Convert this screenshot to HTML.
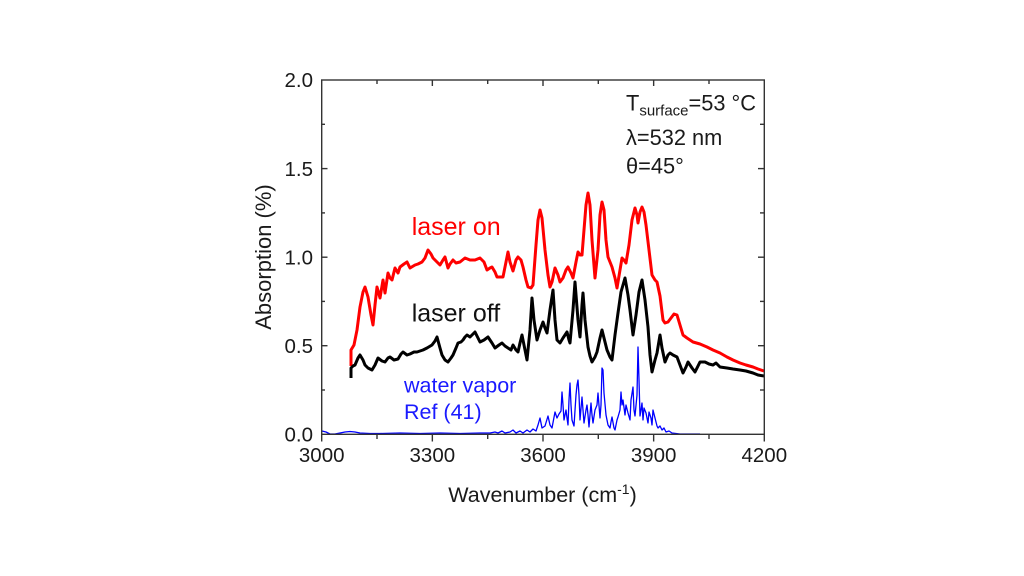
<!DOCTYPE html>
<html>
<head>
<meta charset="utf-8">
<style>
html,body{margin:0;padding:0;background:#fff;}
svg{display:block;}
text{font-family:"Liberation Sans",Arial,sans-serif;}
</style>
</head>
<body>
<svg width="1024" height="576" viewBox="0 0 1024 576" xmlns="http://www.w3.org/2000/svg">
<rect width="1024" height="576" fill="#fff"/>

<!-- blue water vapor -->
<polyline fill="none" stroke="#0000ff" stroke-width="1.3" stroke-linejoin="round" points="322,431 326,432 330,434 335,434 340,433 345,432 350,431.5 355,432 360,433 370,433.5 380,433.5 400,433 420,433.5 440,433 460,433.5 480,433 490,433 495,432 498,433 502,431 505,433 510,432 513,430 516,433 520,431 523,433 527,430 530,432 533,429 536,431 538,425 540,418 542,428 545,426 548,416 550,425 552,428 555,412 557,418 559,414 561,411 562,392 563,405 564,420 566,410 567,418 568,425 569,400 570,383 571,405 572,420 574,426 576,395 577,385 578,380 579,395 580,420 582,397 583,410 584,423 586,410 587,405 588,415 589,427 591,403 592,415 593,423 595,410 597,405 598,393 600,418 601,405 602,368 603,370 604,393 606,415 608,425 610,428 611,422 612,417 614,428 615,430 617,420 618,417 620,410 621,392 622,405 623,400 625,415 626,405 628,413 630,420 631,400 633,387 634,410 635,416 637,395 638,347 639,380 640,416 641,410 642,403 643,420 644,408 646,413 648,423 649,412 651,418 652,425 653,410 655,418 657,426 658,428 660,426 662,430 664,428 666,432 669,431 672,433 680,434 700,434"/>

<!-- red laser on -->
<polyline fill="none" stroke="#ff0000" stroke-width="3" stroke-linejoin="round" points="351,366 351,350 354,345 357,330 360,307 363,292 365,287 368,297 371,315 373,325 375,305 377,287 380,298 383,280 385,293 388,273 390,278 392,280 395,268 398,273 400,267 404,264 407,262 410,268 415,265 418,264 422,262 425,258 428,250 431,254 433,258 437,262 440,265 443,260 445,257 448,268 450,264 453,260 456,263 460,262 465,258 470,260 475,260 480,258 484,262 487,270 490,268 492,267 495,272 497,277 500,277 503,277 506,262 508,252 510,262 513,271 516,260 518,257 521,260 523,267 526,280 528,287 531,288 533,285 536,245 538,220 540,210 542,218 545,250 548,275 550,287 552,282 555,268 558,275 560,282 563,278 566,270 568,267 571,273 573,278 576,262 578,252 580,255 582,255 584,230 586,205 588,193 590,205 592,240 595,278 598,250 600,215 602,202 604,210 606,240 608,257 610,262 612,267 615,278 617,288 620,270 622,258 624,260 626,263 629,245 632,220 635,208 637,215 638,223 640,212 642,207 644,212 646,225 649,250 652,275 655,280 657,282 660,296 663,320 665,323 668,322 671,318 674,314 677,315 680,325 683,335 687,338 693,342 700,344 707,347 713,350 720,353 727,357 733,360 740,363 746,365 753,367 758,369 764,371"/>

<!-- black laser off -->
<polyline fill="none" stroke="#000" stroke-width="3" stroke-linejoin="round" points="351,378 351,368 353,366 355,365 358,358 360,355 363,360 365,365 368,368 372,370 375,365 378,358 382,361 385,362 388,358 390,357 394,360 398,359 401,354 403,352 407,355 410,354 414,352 417,352 420,351 423,350 427,348 432,345 435,341 437,337 440,348 442,355 445,360 448,362 451,358 453,355 456,348 458,343 461,342 463,340 465,337 467,335 470,337 472,335 474,333 475,332 478,338 480,342 484,340 488,337 492,343 495,348 499,345 502,343 505,346 508,348 511,350 513,345 516,350 518,352 520,343 522,335 525,350 527,360 530,330 532,298 534,320 537,340 540,330 543,322 545,328 547,333 550,310 553,290 555,320 557,340 560,343 563,338 567,332 569,340 570,343 573,310 575,282 578,320 580,337 582,305 583,293 585,320 588,347 590,356 592,362 595,357 597,352 600,338 602,330 605,342 607,350 610,357 612,360 615,335 618,313 621,292 625,278 628,295 630,310 633,335 636,315 639,292 642,280 645,300 648,327 650,355 652,372 655,360 657,353 660,335 662,348 665,362 668,355 670,353 673,355 677,357 680,365 683,373 686,367 688,362 692,368 695,372 698,366 700,362 705,362 709,364 713,365 716,363 720,367 727,368 733,369 740,370 746,371 753,373 758,375 764,376"/>

<!-- frame -->
<rect x="321.7" y="80" width="442.6" height="354.3" fill="none" stroke="#333" stroke-width="1.4"/>

<!-- ticks -->
<g stroke="#333" stroke-width="1.4">
  <line x1="321.7" y1="434.3" x2="321.7" y2="441.5"/>
  <line x1="377" y1="434.3" x2="377" y2="439"/>
  <line x1="432.35" y1="434.3" x2="432.35" y2="441.5"/>
  <line x1="487.7" y1="434.3" x2="487.7" y2="439"/>
  <line x1="543" y1="434.3" x2="543" y2="441.5"/>
  <line x1="598.3" y1="434.3" x2="598.3" y2="439"/>
  <line x1="653.65" y1="434.3" x2="653.65" y2="441.5"/>
  <line x1="709" y1="434.3" x2="709" y2="439"/>
  <line x1="764.3" y1="434.3" x2="764.3" y2="441.5"/>
  <line x1="377" y1="80" x2="377" y2="84"/>
  <line x1="432.35" y1="80" x2="432.35" y2="86"/>
  <line x1="487.7" y1="80" x2="487.7" y2="84"/>
  <line x1="543" y1="80" x2="543" y2="86"/>
  <line x1="598.3" y1="80" x2="598.3" y2="84"/>
  <line x1="653.65" y1="80" x2="653.65" y2="86"/>
  <line x1="709" y1="80" x2="709" y2="84"/>
  <line x1="321.7" y1="124.3" x2="325" y2="124.3"/>
  <line x1="321.7" y1="168.6" x2="327.5" y2="168.6"/>
  <line x1="321.7" y1="212.9" x2="325" y2="212.9"/>
  <line x1="321.7" y1="257.2" x2="327.5" y2="257.2"/>
  <line x1="321.7" y1="301.4" x2="325" y2="301.4"/>
  <line x1="321.7" y1="345.7" x2="327.5" y2="345.7"/>
  <line x1="321.7" y1="390" x2="325" y2="390"/>
  <line x1="764.3" y1="124.3" x2="760" y2="124.3"/>
  <line x1="764.3" y1="168.6" x2="758" y2="168.6"/>
  <line x1="764.3" y1="212.9" x2="760" y2="212.9"/>
  <line x1="764.3" y1="257.2" x2="758" y2="257.2"/>
  <line x1="764.3" y1="301.4" x2="760" y2="301.4"/>
  <line x1="764.3" y1="345.7" x2="758" y2="345.7"/>
  <line x1="764.3" y1="390" x2="760" y2="390"/>
</g>

<!-- y tick labels -->
<g font-size="20.5" fill="#1a1a1a" text-anchor="end">
  <text x="313" y="87">2.0</text>
  <text x="313" y="176">1.5</text>
  <text x="313" y="264.5">1.0</text>
  <text x="313" y="353">0.5</text>
  <text x="313" y="441.5">0.0</text>
</g>

<!-- x tick labels -->
<g font-size="20.5" fill="#1a1a1a" text-anchor="middle">
  <text x="321.7" y="462">3000</text>
  <text x="432.35" y="462">3300</text>
  <text x="543" y="462">3600</text>
  <text x="653.65" y="462">3900</text>
  <text x="764.3" y="462">4200</text>
</g>

<!-- axis titles -->
<text x="542.5" y="502" font-size="21.5" fill="#1a1a1a" text-anchor="middle">Wavenumber (cm<tspan font-size="14" dy="-8">-1</tspan><tspan dy="8">)</tspan></text>
<text transform="translate(271,257) rotate(-90)" font-size="22" fill="#1a1a1a" text-anchor="middle">Absorption (%)</text>

<!-- annotations -->
<text x="626" y="110.7" font-size="21.8" fill="#1a1a1a">T<tspan font-size="15" dy="5">surface</tspan><tspan dy="-5">=53 °C</tspan></text>
<text x="626" y="145" font-size="21.8" fill="#1a1a1a">λ=532 nm</text>
<text x="626" y="173.3" font-size="21.8" fill="#1a1a1a">θ=45°</text>

<!-- series labels -->
<text x="411.7" y="235" font-size="25" fill="#ff0000">laser on</text>
<text x="411.7" y="321.7" font-size="25" fill="#111">laser off</text>
<text x="404" y="392.7" font-size="21.5" fill="#1a1aff">water vapor</text>
<text x="404" y="419" font-size="21.5" fill="#1a1aff">Ref (41)</text>
</svg>
</body>
</html>
